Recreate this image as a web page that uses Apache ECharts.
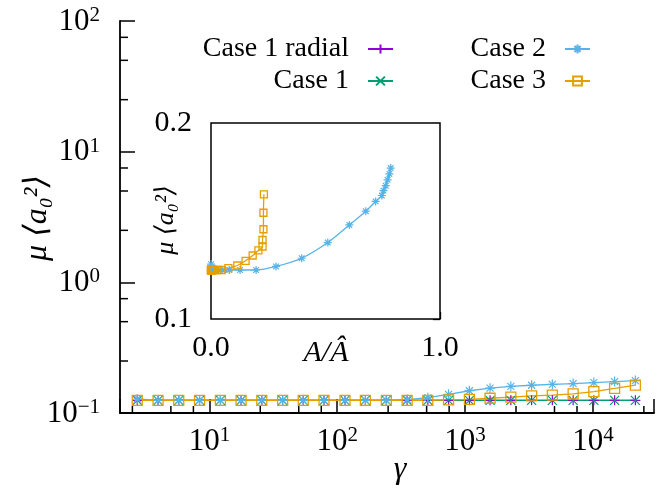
<!DOCTYPE html>
<html><head><meta charset="utf-8">
<script src="https://cdn.jsdelivr.net/npm/echarts@6/dist/echarts.min.js"></script>
<style>html,body{margin:0;padding:0;background:#fff}#c{width:657px;height:498px}</style>
</head><body><div id="c"></div>
<script>
// ---- data ----
const gamma = [2.73, 3.97, 5.76, 8.38, 12.2, 17.7, 25.7, 37.4, 54.2, 78.8, 115, 166, 242, 352, 511, 742, 1080, 1567, 2278, 3311, 4810, 6995, 10160, 14760, 21450];
const case1Radial = [0.125, 0.125, 0.125, 0.125, 0.125, 0.125, 0.125, 0.125, 0.125, 0.125, 0.125, 0.125, 0.125, 0.125, 0.125, 0.125, 0.125, 0.125, 0.125, 0.125, 0.125, 0.125, 0.125, 0.125, 0.125];
const case1 = [0.125, 0.125, 0.125, 0.125, 0.125, 0.125, 0.125, 0.125, 0.125, 0.125, 0.125, 0.125, 0.125, 0.125, 0.125, 0.125, 0.125, 0.125, 0.125, 0.125, 0.125, 0.125, 0.125, 0.125, 0.125];
const case2 = [0.128, 0.125, 0.125, 0.125, 0.125, 0.125, 0.125, 0.125, 0.125, 0.125, 0.125, 0.125, 0.125, 0.1268, 0.131, 0.139, 0.148, 0.155, 0.160, 0.163, 0.1655, 0.168, 0.171, 0.174, 0.177];
const case3 = [0.125, 0.125, 0.125, 0.125, 0.125, 0.125, 0.125, 0.125, 0.125, 0.125, 0.125, 0.125, 0.125, 0.125, 0.125, 0.126, 0.1273, 0.1297, 0.1324, 0.135, 0.137, 0.1403, 0.1458, 0.1542, 0.1636];
const case2A = [0.0005, 0.001, 0.002, 0.003, 0.005, 0.008, 0.013, 0.02, 0.032, 0.05, 0.08, 0.127, 0.197, 0.284, 0.396, 0.510, 0.604, 0.676, 0.719, 0.746, 0.753, 0.763, 0.771, 0.779, 0.785];
const case3A = [0.0001, 0.0001, 0.0002, 0.0003, 0.0005, 0.0007, 0.001, 0.0015, 0.002, 0.003, 0.005, 0.009, 0.016, 0.028, 0.047, 0.076, 0.115, 0.151, 0.182, 0.207, 0.225, 0.225, 0.229, 0.229, 0.231];
const seriesNames = ['Case 1 radial', 'Case 1', 'Case 2', 'Case 3'];
const xMinorTicks = [2.5, 5, 7.5, 25, 50, 75, 250, 500, 750, 2500, 5000, 7500, 25000];
const yMinorTicks = [0.25, 0.5, 0.75, 2.5, 5, 7.5, 25, 50, 75];
const mainXRange = [2, 30000];
const mainYRange = [0.1, 100];
const insetXRange = [0, 1];
const insetYRange = [0.1, 0.2];
const insetXTickStep = 0.25;
const insetYTickStep = 0.025;
const insetXLabels = {0: '0.0', 1: '1.0'};
const insetYLabels = {0.1: '0.1', 0.2: '0.2'};

// ---- style ----
const FONT = "'Liberation Serif', 'DejaVu Serif', serif";
const COL = {purple: '#9400d3', green: '#009e73', blue: '#56b4e9', orange: '#e69f00'};
const SYM_PLUS = 'path://M0,5L10,5M5,0L5,10';
const SYM_CROSS = 'path://M0,0L10,10M10,0L0,10';
const SYM_STAR = 'path://M0,5L10,5M5,0L5,10M1.5,1.5L8.5,8.5M8.5,1.5L1.5,8.5';

function pow10Label(v) {
  const l = Math.log10(v);
  const e = Math.round(l);
  if (Math.abs(l - e) > 1e-6) return '';
  return '{b|10}{s|' + (e < 0 ? '\u2212' + (-e) : e) + '}';
}
const powRich = {
  b: {fontFamily: FONT, fontSize: 31, color: '#000', verticalAlign: 'bottom', lineHeight: 32},
  s: {fontFamily: FONT, fontSize: 21, color: '#000', verticalAlign: 'top', lineHeight: 21}
};

const zip = (xs, ys) => xs.map((x, i) => [x, ys[i]]);

function mkSeries(name, xs, ys, xi, yi, color, symbol, size, isSquare) {
  return {
    type: 'line', name: name, xAxisIndex: xi, yAxisIndex: yi,
    data: zip(xs, ys), symbol: symbol, symbolSize: size, showSymbol: true,
    smooth: xi === 1 ? 0.3 : false,
    lineStyle: {color: color, width: 1.3},
    itemStyle: isSquare ? {color: 'rgba(255,255,255,0)', borderColor: color, borderWidth: 1.3}
                        : {color: color, borderColor: color, borderWidth: 1.2},
    emphasis: {disabled: true}, animation: false, z: 3
  };
}

const legendCommon = {
  orient: 'vertical', padding: 0, itemWidth: 25, itemHeight: 11, align: 'right', selectedMode: false,
  textStyle: {fontFamily: FONT, fontSize: 28, color: '#000', padding: [0, 14, 0, 0]}
};

const chart = echarts.init(document.getElementById('c'), null, {renderer: 'canvas'});
chart.setOption({
  animation: false,
  backgroundColor: '#fff',
  legend: [
    Object.assign({}, legendCommon, {data: [seriesNames[0]], right: 263, top: 35}),
    Object.assign({}, legendCommon, {data: [seriesNames[1]], right: 263, top: 67}),
    Object.assign({}, legendCommon, {data: [seriesNames[2]], right: 66, top: 35}),
    Object.assign({}, legendCommon, {data: [seriesNames[3]], right: 66, top: 67})
  ],
  grid: [
    {left: 120, top: 21, width: 543, height: 392},
    {left: 211, top: 123, width: 229, height: 196, show: true, backgroundColor: '#fff', borderColor: '#000', borderWidth: 1.5, z: 1}
  ],
  xAxis: [
    {type: 'log', logBase: 10, gridIndex: 0, min: mainXRange[0], max: mainXRange[1], splitNumber: 4,
     axisLine: {show: true, lineStyle: {color: '#000', width: 1.8}},
     axisTick: {show: true, inside: true, length: 14, lineStyle: {color: '#000', width: 1.5}},
     minorTick: {show: false}, splitLine: {show: false},
     axisLabel: {margin: 12, formatter: pow10Label, rich: powRich, showMinLabel: true, showMaxLabel: true, hideOverlap: false}},
    {type: 'value', gridIndex: 1, min: insetXRange[0], max: insetXRange[1], interval: insetXTickStep,
     axisLine: {show: false}, splitLine: {show: false},
     axisTick: {show: true, inside: true, length: 7, lineStyle: {color: '#000', width: 1.3}},
     axisLabel: {margin: 14, fontFamily: FONT, fontSize: 30, color: '#000',
       formatter: v => insetXLabels[v] !== undefined ? insetXLabels[v] : ''}}
  ],
  yAxis: [
    {type: 'log', logBase: 10, gridIndex: 0, min: mainYRange[0], max: mainYRange[1], splitNumber: 3,
     axisLine: {show: true, lineStyle: {color: '#000', width: 1.8}},
     axisTick: {show: true, inside: true, length: 15, lineStyle: {color: '#000', width: 1.5}},
     minorTick: {show: false}, splitLine: {show: false},
     axisLabel: {margin: 20, formatter: pow10Label, rich: powRich, showMinLabel: true, showMaxLabel: true}},
    {type: 'value', gridIndex: 1, min: insetYRange[0], max: insetYRange[1], interval: insetYTickStep,
     axisLine: {show: false}, splitLine: {show: false}, axisTick: {show: false},
     axisLabel: {margin: 19, fontFamily: FONT, fontSize: 30, color: '#000',
       formatter: v => { const k = Math.round(v * 1000) / 1000; return insetYLabels[k] !== undefined ? insetYLabels[k] : ''; }}},
    {type: 'value', gridIndex: 1, position: 'right', min: insetYRange[0], max: insetYRange[1], interval: insetYTickStep,
     axisLine: {show: false}, splitLine: {show: false}, axisLabel: {show: false},
     axisTick: {show: true, inside: true, length: 7, lineStyle: {color: '#000', width: 1.3}}}
  ],
  series: [
    mkSeries(seriesNames[0], gamma, case1Radial, 0, 0, COL.purple, SYM_PLUS, 10, false),
    mkSeries(seriesNames[1], gamma, case1, 0, 0, COL.green, SYM_CROSS, 9, false),
    mkSeries(seriesNames[2], gamma, case2, 0, 0, COL.blue, SYM_STAR, 10, false),
    mkSeries(seriesNames[3], gamma, case3, 0, 0, COL.orange, 'rect', 10, true),
    mkSeries(seriesNames[2], case2A, case2, 1, 1, COL.blue, SYM_STAR, 8, false),
    mkSeries(seriesNames[3], case3A, case3, 1, 1, COL.orange, 'rect', 7, true),
    {type: 'custom', xAxisIndex: 0, yAxisIndex: 0, silent: true, z: 4,
     data: xMinorTicks.map(v => [v, mainYRange[0]]),
     renderItem: (p, api) => { const c = api.coord([api.value(0), api.value(1)]);
       return {type: 'line', shape: {x1: c[0], y1: c[1], x2: c[0], y2: c[1] - 7}, style: {stroke: '#000', lineWidth: 1.5}}; }},
    {type: 'custom', xAxisIndex: 0, yAxisIndex: 0, silent: true, z: 4,
     data: yMinorTicks.map(v => [mainXRange[0], v]),
     renderItem: (p, api) => { const c = api.coord([api.value(0), api.value(1)]);
       return {type: 'line', shape: {x1: c[0], y1: c[1], x2: c[0] + 8, y2: c[1]}, style: {stroke: '#000', lineWidth: 1.5}}; }}
  ],
  graphic: [
    {type: 'text', x: 38, y: 218, rotation: Math.PI / 2, z: 10,
     style: {text: 'μ ⟨a₀²⟩', font: 'italic 32px ' + FONT, fill: '#000', align: 'center', verticalAlign: 'middle'}},
    {type: 'text', x: 400, y: 470, z: 10,
     style: {text: 'γ', font: 'italic 32px ' + FONT, fill: '#000', align: 'center', verticalAlign: 'middle'}},
    {type: 'text', x: 326, y: 353, z: 10,
     style: {text: 'A/Â', font: 'italic 30px ' + FONT, fill: '#000', align: 'center', verticalAlign: 'middle'}},
    {type: 'text', x: 166, y: 220, rotation: Math.PI / 2, z: 10,
     style: {text: 'μ ⟨a₀²⟩', font: 'italic 26px ' + FONT, fill: '#000', align: 'center', verticalAlign: 'middle'}}
  ]
});
</script></body></html>
